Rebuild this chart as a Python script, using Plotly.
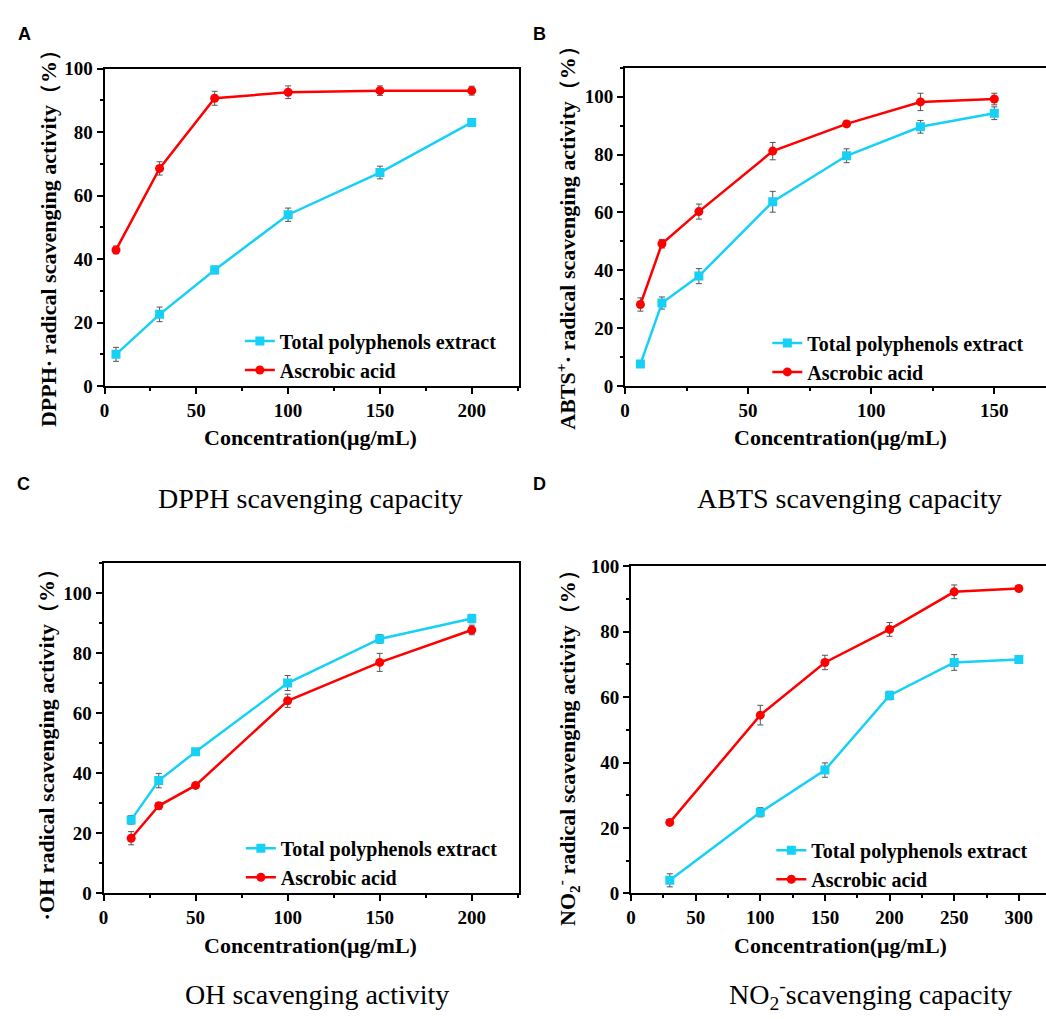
import plotly.graph_objects as go

# ---------------- data ----------------
# Panel A: DPPH
a_conc = [6.25, 30, 60, 100, 150, 200]
a_tpe = [10.0, 22.6, 36.6, 54.0, 67.3, 83.1]
a_tpe_err = [2.2, 2.3, 1.2, 2.1, 2.0, 0.8]
a_vc = [42.9, 68.6, 90.7, 92.6, 93.1, 93.1]
a_vc_err = [1.2, 2.1, 2.2, 2.0, 1.5, 1.4]

# Panel B: ABTS
b_conc = [6.25, 15, 30, 60, 90, 120, 150]
b_tpe = [7.6, 28.7, 38.0, 63.7, 79.6, 89.6, 94.3]
b_tpe_err = [0.8, 2.1, 2.6, 3.6, 2.4, 2.2, 2.2]
b_vc = [28.2, 49.2, 60.3, 81.2, 90.6, 98.2, 99.2]
b_vc_err = [2.3, 1.5, 2.6, 3.0, 1.0, 3.0, 2.0]

# Panel C: OH
c_conc = [15, 30, 50, 100, 150, 200]
c_tpe = [24.5, 37.6, 47.2, 70.1, 84.8, 91.6]
c_tpe_err = [1.4, 2.4, 0.6, 2.5, 1.4, 1.4]
c_vc = [18.4, 29.2, 36.0, 64.2, 77.0, 87.8]
c_vc_err = [2.2, 1.1, 0.5, 2.2, 3.0, 1.6]

# Panel D: NO2-
d_conc = [30, 100, 150, 200, 250, 300]
d_tpe = [4.0, 24.8, 37.7, 60.5, 70.6, 71.5]
d_tpe_err = [2.0, 1.4, 2.2, 1.3, 2.4, 0.9]
d_vc = [21.7, 54.5, 70.6, 80.7, 92.2, 93.2]
d_vc_err = [0.8, 3.0, 2.2, 2.1, 2.1, 0.9]

series_names = ["Total polyphenols extract", "Ascrobic acid"]
y_titles = [
    "DPPH· radical scavenging activity（%）",
    "ABTS<sup>+</sup>· radical scavenging activity（%）",
    "·OH radical scavenging activity（%）",
    "NO<sub>2</sub><sup>-</sup> radical scavenging activity（%）",
]
x_title = "Concentration(μg/mL)"
panel_titles = ["DPPH scavenging capacity", "ABTS scavenging capacity",
                "OH scavenging activity", "NO<sub>2</sub><sup>-</sup>scavenging capacity"]
panel_letters = ["A", "B", "C", "D"]

# ---------------- figure ----------------
W, H = 1046, 1019
CYAN = "#17d0f5"
RED = "#ff0000"
ERR = "#555555"
SERIF = "Liberation Serif"

fig = go.Figure()

panels = [
    (a_conc, a_tpe, a_tpe_err, a_vc, a_vc_err),
    (b_conc, b_tpe, b_tpe_err, b_vc, b_vc_err),
    (c_conc, c_tpe, c_tpe_err, c_vc, c_vc_err),
    (d_conc, d_tpe, d_tpe_err, d_vc, d_vc_err),
]

for i, (xs, t, te, v, ve) in enumerate(panels):
    sfx = "" if i == 0 else str(i + 1)
    leg = "legend" + sfx
    fig.add_trace(go.Scatter(
        x=xs, y=t, mode="lines+markers", name=series_names[0],
        line=dict(color=CYAN, width=2.5),
        marker=dict(symbol="square", size=9, color=CYAN),
        error_y=dict(type="data", array=te, color=ERR, thickness=1, width=3),
        xaxis="x" + sfx, yaxis="y" + sfx, legend=leg))
    fig.add_trace(go.Scatter(
        x=xs, y=v, mode="lines+markers", name=series_names[1],
        line=dict(color=RED, width=2.5),
        marker=dict(symbol="circle", size=9, color=RED),
        error_y=dict(type="data", array=ve, color=ERR, thickness=1, width=3),
        xaxis="x" + sfx, yaxis="y" + sfx, legend=leg))

tickfont = dict(family=SERIF, size=19, color="black", weight="bold")


def px_x(p):
    return p / W


def px_y(p):
    return 1 - p / H


def xax(domain, rng, anchor, dtick):
    return dict(domain=domain, range=rng, anchor=anchor, showline=True, linecolor="black",
                linewidth=2, mirror=True, ticks="outside", ticklen=6, tickwidth=2,
                tickcolor="black", showgrid=False, zeroline=False, dtick=dtick, tick0=0,
                tickfont=tickfont,
                minor=dict(ticks="outside", ticklen=3, tickwidth=2, tickcolor="black",
                           dtick=dtick / 2, showgrid=False))


def yax(domain, rng, anchor, mirror):
    return dict(domain=domain, range=rng, anchor=anchor, showline=True, linecolor="black",
                linewidth=2, mirror=mirror, ticks="outside", ticklen=6, tickwidth=2,
                tickcolor="black", showgrid=False, zeroline=False, dtick=20, tick0=0,
                tickfont=tickfont,
                minor=dict(ticks="outside", ticklen=3, tickwidth=2, tickcolor="black",
                           dtick=10, showgrid=False))


fig.update_layout(
    xaxis=xax([px_x(100), px_x(516)], [0, 225.5], "y", 50),
    yaxis=yax([px_y(384), px_y(60)], [0, 100], "x", True),
    xaxis2=xax([px_x(623), 1.0], [0, 171.0], "y2", 50),
    yaxis2=yax([px_y(384), px_y(59)], [0, 110], "x2", False),
    xaxis3=xax([px_x(99), px_x(516)], [0, 225.4], "y3", 50),
    yaxis3=yax([px_y(902), px_y(565)], [0, 110], "x3", True),
    xaxis4=xax([px_x(629), 1.0], [0, 321], "y4", 50),
    yaxis4=yax([px_y(902), px_y(568)], [0, 100], "x4", False),
)

legfont = dict(family=SERIF, size=20, color="black", weight="bold")
leg_pos = [(236, 318), (766, 320), (237, 836), (770, 838)]
for i, (lx, ly) in enumerate(leg_pos):
    key = "legend" if i == 0 else "legend" + str(i + 1)
    fig.update_layout(**{key: dict(x=px_x(lx), y=px_y(ly), xanchor="left", yanchor="top",
                                   font=legfont, bgcolor="rgba(0,0,0,0)",
                                   tracegroupgap=0, itemwidth=30)})

ann = []
# y-axis titles
for (cx, cy), txt in zip([(44, 228), (564, 227), (42, 745), (565, 748)], y_titles):
    ann.append(dict(x=px_x(cx), y=px_y(cy), xref="paper", yref="paper", text=txt,
                    textangle=-90, showarrow=False, xanchor="center", yanchor="middle",
                    font=dict(family=SERIF, size=22, color="black", weight="bold")))
# x-axis titles
for cx, cy in [(307, 437), (840, 437), (307, 955), (840, 955)]:
    ann.append(dict(x=px_x(cx), y=px_y(cy), xref="paper", yref="paper", text=x_title,
                    showarrow=False, xanchor="center", yanchor="middle",
                    font=dict(family=SERIF, size=22, color="black", weight="bold")))
# panel captions
for (cx, cy), txt in zip([(307, 499), (849, 499), (314, 1005), (870, 1005)], panel_titles):
    ann.append(dict(x=px_x(cx), y=px_y(cy), xref="paper", yref="paper", text=txt,
                    showarrow=False, xanchor="center", yanchor="middle",
                    font=dict(family=SERIF, size=28, color="black")))
# panel letters
for (cx, cy), txt in zip([(20, 25), (537, 25), (19, 484), (537, 484)], panel_letters):
    ann.append(dict(x=px_x(cx), y=px_y(cy), xref="paper", yref="paper", text=txt,
                    showarrow=False, xanchor="center", yanchor="middle",
                    font=dict(family="Liberation Sans", size=18, color="black", weight="bold")))

fig.update_layout(
    width=W, height=H, margin=dict(l=0, r=0, t=0, b=0),
    paper_bgcolor="white", plot_bgcolor="white",
    annotations=ann, showlegend=True,
)

fig.write_html("out.html", config={"displayModeBar": False},
               post_script="document.body.style.margin='0';document.body.style.overflow='hidden';")
